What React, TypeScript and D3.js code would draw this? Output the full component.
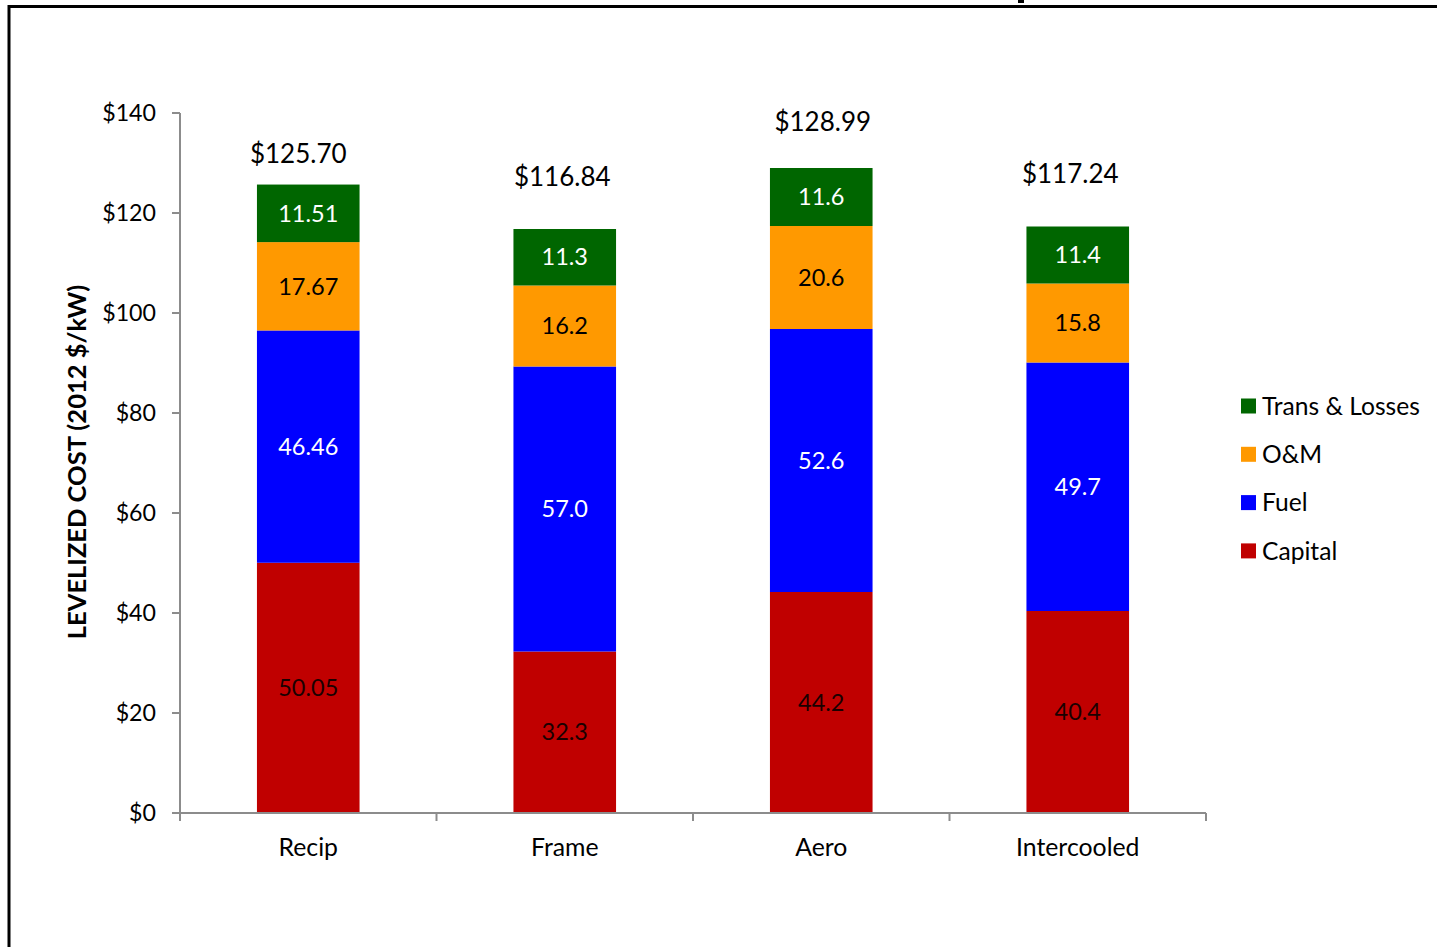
import React from "react";
import * as d3 from "d3";

const categories = ["Recip", "Frame", "Aero", "Intercooled"];
const seriesNames = ["Capital", "Fuel", "O&M", "Trans & Losses"];
const capital = [50.05, 32.3, 44.2, 40.4];
const fuel = [46.46, 57.0, 52.6, 49.7];
const om = [17.67, 16.2, 20.6, 15.8];
const trans = [11.51, 11.3, 11.6, 11.4];
const capitalLabels = ["50.05", "32.3", "44.2", "40.4"];
const fuelLabels = ["46.46", "57.0", "52.6", "49.7"];
const omLabels = ["17.67", "16.2", "20.6", "15.8"];
const transLabels = ["11.51", "11.3", "11.6", "11.4"];
const totals = [125.7, 116.84, 128.99, 117.24];
const totalLabels = ["$125.70", "$116.84", "$128.99", "$117.24"];
const yTicks = [0, 20, 40, 60, 80, 100, 120, 140];

const seriesColors = ["#C00000", "#0000FF", "#FF9900", "#006600"];
const seriesTextColors = ["#1a0000", "#ffffff", "#000000", "#ffffff"];
const totalLabelOffsetsY = [31, 52, 46, 53];
const totalLabelOffsetsX = [-10, -2.5, 1.5, -7.5];

const FONT = "Lato, 'Open Sans', sans-serif";

export default function App() {
  const W = 1437, H = 947;
  const x0 = 180, x1 = 1206, yTop = 113, yBot = 813;
  const y = d3.scaleLinear().domain([0, 140]).range([yBot, yTop]);
  const x = d3.scaleBand().domain(categories).range([x0, x1]).paddingInner(0.6).paddingOuter(0.3);
  const bw = x.bandwidth();
  const values = [capital, fuel, om, trans];
  const labels = [capitalLabels, fuelLabels, omLabels, transLabels];
  const stackData = categories.map((c, i) => {
    const o: any = { cat: c };
    seriesNames.forEach((s, k) => (o[s] = values[k][i]));
    return o;
  });
  const stacked = d3.stack().keys(seriesNames)(stackData);
  const bandEdges = d3.range(categories.length + 1).map((i) => x0 + (i * (x1 - x0)) / categories.length);

  return (
    <svg width={W} height={H} style={{ position: "absolute", left: 0, top: 0, display: "block", background: "#fff" }} fontFamily={FONT}>
      <rect x={0} y={0} width={W} height={H} fill="#fff" />
      <line x1={8} x2={W} y1={6.5} y2={6.5} stroke="#000" strokeWidth={3} />
      <line x1={9} x2={9} y1={5} y2={H} stroke="#000" strokeWidth={3} />
      <rect x={1018} y={0} width={6} height={3} fill="#000" />

      {stacked.map((layer, k) => (
        <g key={layer.key}>
          {layer.map((d, i) => (
            <g key={i}>
              <rect x={x(categories[i])} y={y(d[1])} width={bw} height={y(d[0]) - y(d[1])} fill={seriesColors[k]} />
              <text x={(x(categories[i]) as number) + bw / 2} y={(y(d[0]) + y(d[1])) / 2} dy="0.35em" textAnchor="middle" fontSize={23.5} fill={seriesTextColors[k]}>
                {labels[k][i]}
              </text>
            </g>
          ))}
        </g>
      ))}

      {totals.map((t, i) => (
        <text key={i} x={(x(categories[i]) as number) + bw / 2 + totalLabelOffsetsX[i]} y={y(t) - totalLabelOffsetsY[i]} dy="0.35em" textAnchor="middle" fontSize={26} fill="#000">
          {totalLabels[i]}
        </text>
      ))}

      <line x1={x0} x2={x0} y1={yTop} y2={yBot} stroke="#8c8c8c" strokeWidth={2} />
      {yTicks.map((t) => (
        <g key={t}>
          <line x1={x0 - 8} x2={x0} y1={y(t)} y2={y(t)} stroke="#8c8c8c" strokeWidth={2} />
          <text x={156} y={y(t)} dy="0.35em" textAnchor="end" fontSize={23.2} fill="#000">{"$" + t}</text>
        </g>
      ))}
      <line x1={x0 - 8} x2={x1} y1={yBot} y2={yBot} stroke="#8c8c8c" strokeWidth={2} />
      {bandEdges.map((e, i) => (
        <line key={i} x1={e} x2={e} y1={yBot} y2={yBot + 8} stroke="#8c8c8c" strokeWidth={2} />
      ))}
      {categories.map((c) => (
        <text key={c} x={(x(c) as number) + bw / 2} y={847} dy="0.35em" textAnchor="middle" fontSize={24.8} fill="#000">{c}</text>
      ))}

      <text transform={`translate(77,462) rotate(-90)`} textAnchor="middle" dy="0.35em" fontSize={25.5} fontWeight="bold" fill="#000">
        LEVELIZED COST (2012 $/kW)
      </text>

      {[3, 2, 1, 0].map((k, j) => (
        <g key={k} transform={`translate(1241,${406 + j * 48.3})`}>
          <rect x={0} y={-7.5} width={15} height={15} fill={seriesColors[k]} />
          <text x={21} y={0} dy="0.35em" fontSize={24.6} fill="#000">{seriesNames[k]}</text>
        </g>
      ))}
    </svg>
  );
}
